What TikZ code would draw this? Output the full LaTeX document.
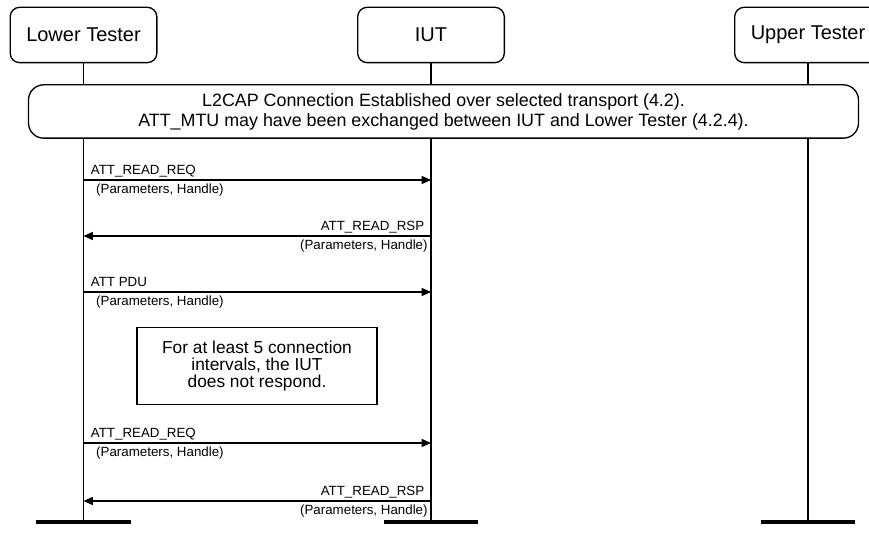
\documentclass[tikz,border=0pt]{standalone}
\usepackage{fontspec}
\setmainfont{Liberation Sans}
\usetikzlibrary{arrows.meta,positioning}
\tikzset{
  actornode/.style={draw,line width=1pt,rounded corners=2.5mm,minimum width=110pt,minimum height=41.5pt,align=center,font=\fontsize{15}{17}\selectfont},
  setupnode/.style={draw,line width=1pt,rounded corners=4mm,minimum width=622.5pt,minimum height=40pt,align=center,font=\fontsize{13.4}{15}\selectfont},
  notenode/.style={draw,line width=1pt,minimum width=180pt,minimum height=58pt,align=center,font=\fontsize{13}{12.4}\selectfont},
  lifeline/.style={line width=1.1pt},
  endbar/.style={line width=3pt},
  msg/.style={-{Triangle[length=7pt,width=6pt]},line width=1.1pt},
  msglabel/.style={inner sep=0pt,font=\fontsize{10}{12}\selectfont}
}
\begin{document}
\begin{tikzpicture}[x=0.75pt,y=-0.75pt]
  \useasboundingbox (0,0) rectangle (869,538);
  % actors
  \node[actornode] (lt) at (83.5,35) {Lower Tester};
  \node[actornode] (iut) at (431,35) {IUT};
  \node[actornode] (ut) at (808,35) {Upper Tester};

  % preamble step
  \node[setupnode] (setup) at (443.5,111.5) {L2CAP Connection Established over selected transport (4.2).\\ATT\_MTU may have been exchanged between IUT and Lower Tester (4.2.4).};

  % lifelines
  \coordinate (ltend) at (83.5,522);
  \coordinate (iutend) at (431,522);
  \coordinate (utend) at (808,522);
  \draw[lifeline] (lt.south) -- (lt |- setup.north);
  \draw[lifeline] (iut.south) -- (iut |- setup.north);
  \draw[lifeline] (ut.south) -- (ut |- setup.north);
  \draw[lifeline] (lt |- setup.south) -- (ltend);
  \draw[lifeline] (iut |- setup.south) -- (iutend);
  \draw[lifeline] (ut |- setup.south) -- (utend);
  \draw[endbar] ([xshift=-35.6pt]ltend) -- ([xshift=35.6pt]ltend);
  \draw[endbar] ([xshift=-35.6pt]iutend) -- ([xshift=35.6pt]iutend);
  \draw[endbar] ([xshift=-35.6pt]utend) -- ([xshift=35.6pt]utend);

  % messages
  \draw[msg] (lt |- 0,180) -- (iut |- 0,180)
    node[msglabel,pos=0,anchor=base west,xshift=5pt,yshift=4pt] {ATT\_READ\_REQ}
    node[msglabel,pos=0,anchor=north west,xshift=9pt,yshift=-2.5pt] {(Parameters, Handle)};
  \draw[msg] (iut |- 0,236) -- (lt |- 0,236)
    node[msglabel,pos=0,anchor=base east,xshift=-4.5pt,yshift=4pt] {ATT\_READ\_RSP}
    node[msglabel,pos=0,anchor=north east,xshift=-2pt,yshift=-2.5pt] {(Parameters, Handle)};
  \draw[msg] (lt |- 0,292) -- (iut |- 0,292)
    node[msglabel,pos=0,anchor=base west,xshift=5pt,yshift=4pt] {ATT PDU}
    node[msglabel,pos=0,anchor=north west,xshift=9pt,yshift=-2.5pt] {(Parameters, Handle)};

  % timeout
  \node[notenode] (wait) at (257,366) {For at least 5 connection\\intervals, the IUT\\does not respond.};

  \draw[msg] (lt |- 0,443) -- (iut |- 0,443)
    node[msglabel,pos=0,anchor=base west,xshift=5pt,yshift=4pt] {ATT\_READ\_REQ}
    node[msglabel,pos=0,anchor=north west,xshift=9pt,yshift=-2.5pt] {(Parameters, Handle)};
  \draw[msg] (iut |- 0,501) -- (lt |- 0,501)
    node[msglabel,pos=0,anchor=base east,xshift=-4.5pt,yshift=4pt] {ATT\_READ\_RSP}
    node[msglabel,pos=0,anchor=north east,xshift=-2pt,yshift=-2.5pt] {(Parameters, Handle)};
\end{tikzpicture}
\end{document}
